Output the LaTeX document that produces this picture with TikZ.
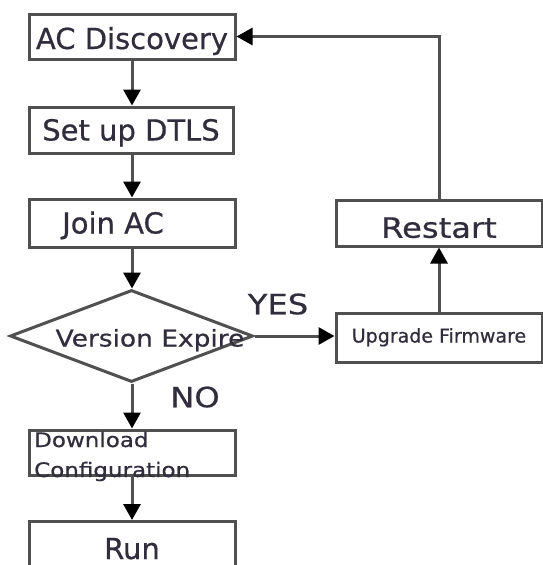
\documentclass[tikz,border=0pt]{standalone}
\usepackage{fontspec}
\setmainfont[FakeBold=0.6]{DejaVu Sans}
\newfontfamily\widefont[FakeStretch=1.15,FakeBold=0.6]{DejaVu Sans}
\usetikzlibrary{arrows.meta,shapes.geometric}
\definecolor{linec}{RGB}{80,80,80}
\definecolor{txtc}{RGB}{50,45,60}
\tikzset{
  box/.style={draw=linec, line width=3pt, fill=white, minimum width=206pt, inner sep=0pt,
    text=txtc},
  bigf/.style={font=\fontsize{29}{34}\selectfont, text height=21pt, text depth=0pt},
  widef/.style={font=\widefont\fontsize{28}{34}\selectfont, text height=20.5pt, text depth=0pt},
  midf/.style={font=\fontsize{19}{23}\selectfont, text height=14pt, text depth=0pt},
  lbl/.style={text=txtc, inner sep=0pt},
  conn/.style={draw=linec, line width=3pt, -{Triangle[length=16pt,width=17pt,fill=black,color=black]}},
}
\begin{document}
\begin{tikzpicture}[x=1pt,y=-1pt]
\useasboundingbox (0,0) rectangle (543,565);
\clip (0,0) rectangle (543,565);
\fill[white] (0,0) rectangle (543,565);
\node[box,bigf,minimum height=45pt] (ac) at (132,36.5) {\raisebox{-2pt}{AC Discovery}};
\node[box,bigf,minimum height=46pt,minimum width=204pt] (dtls) at (131,130) {Set up DTLS};
\node[box,bigf,minimum height=48pt] (join) at (132,223) {Join AC\kern38pt};
\node[draw=linec, line width=3pt, diamond, fill=white, minimum width=243pt, minimum height=92pt, inner sep=0pt] (dec) at (131.5,336) {};
\node[lbl,font=\widefont\fontsize{23}{28}\selectfont, text height=17pt, text depth=0pt] (dectext) at (150,338) {Version Expire};
\node[box,minimum height=45pt] (dl) at (132,452.5) {};
\node[lbl,font=\widefont\fontsize{20}{30}\selectfont, align=left, anchor=base west] (dltext) at (34,477) {Download\\Configuration};
\node[box,bigf,minimum height=60pt,anchor=north] (run) at (132,520) {\raisebox{3pt}{Run}};
\node[box,widef,minimum height=46pt] (rs) at (439,223) {\raisebox{-4.5pt}{Restart}};
\node[box,midf,minimum height=49pt] (up) at (439,337.5) {\raisebox{2pt}{Upgrade Firmware}};
\node[lbl,widef] (yes) at (278,304) {YES};
\node[lbl,widef] (no) at (195,397) {NO};
\draw[conn] (ac.south) -- (dtls.north -| ac.south);
\draw[conn] (dtls.south -| ac.south) -- (join.north);
\draw[conn] (join.south) -- (dec.north -| join.south);
\draw[conn] (dec.south -| join.south) -- (dl.north);
\draw[conn] (dl.south) -- (run.north);
\draw[conn] (dec.east) -- (up.west |- dec.east);
\draw[conn] (up.north) -- (rs.south);
\draw[conn] (rs.north) |- (ac.east);
\end{tikzpicture}
\end{document}
